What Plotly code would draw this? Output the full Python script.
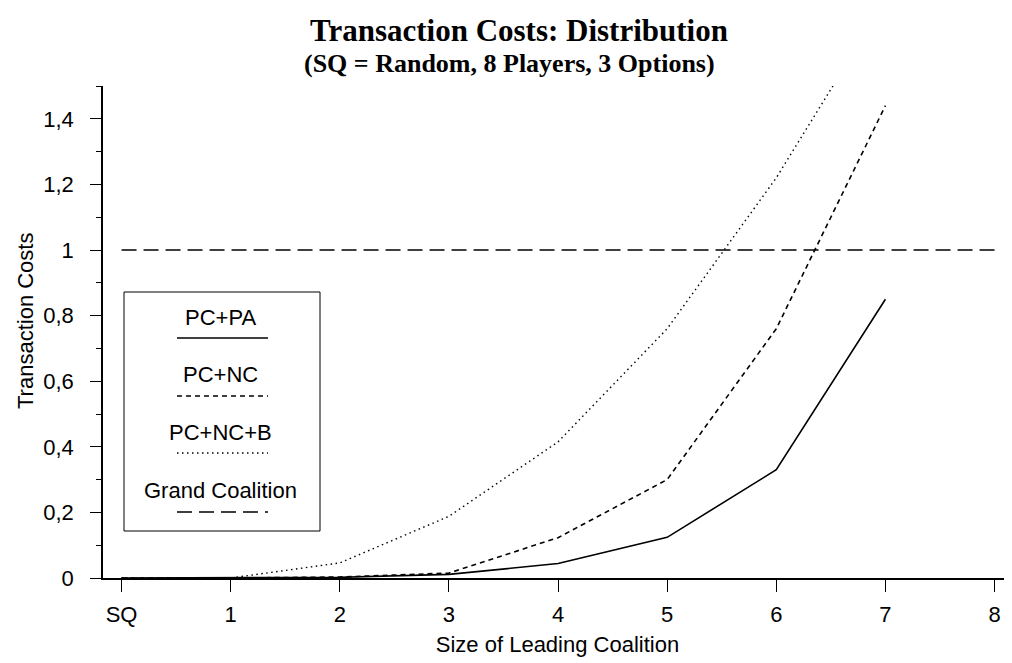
import plotly.graph_objects as go

# data
x_pos = [0, 1, 2, 3, 4, 5, 6, 7, 8]
x_labels = ["SQ", "1", "2", "3", "4", "5", "6", "7", "8"]
pc_pa = [0, 0, 0.002, 0.011, 0.044, 0.124, 0.33, 0.85]
pc_nc = [0, 0, 0.003, 0.015, 0.123, 0.30, 0.76, 1.44]
pc_nc_b = [0, 0, 0.046, 0.188, 0.415, 0.76, 1.22, 1.76]
grand = [1, 1, 1, 1, 1, 1, 1, 1, 1]

names = ["PC+PA", "PC+NC", "PC+NC+B", "Grand Coalition"]
dashes = ["solid", "5px,4px", "1.5px,3.5px", "15px,7px"]
widths = [1.6, 1.6, 1.4, 1.5]

fig = go.Figure()
for name, ys, dash, w in zip(names, [pc_pa, pc_nc, pc_nc_b, grand], dashes, widths):
    fig.add_trace(go.Scatter(x=x_pos[:len(ys)], y=ys, mode="lines", name=name,
                             line=dict(color="black", width=w, dash=dash)))

axfont = dict(family="Liberation Sans, Arial", size=22, color="black")
# page body has an 8px margin, so the figure is 8px smaller than the window
fig.update_layout(
    width=1004, height=655,
    paper_bgcolor="white", plot_bgcolor="white",
    margin=dict(l=95, r=0, t=78, b=85, autoexpand=False),
    showlegend=False,
    separators=", ",
    font=axfont,
)
fig.update_xaxes(range=[-0.17, 8.16], tickvals=x_pos, ticktext=x_labels,
                 showgrid=False, zeroline=False, showline=True, linecolor="black",
                 linewidth=1.5, ticks="outside", ticklen=12, tickcolor="black",
                 tickfont=axfont, ticklabelstandoff=4,
                 title=dict(text="Size of Leading Coalition", font=axfont, standoff=10))
fig.update_yaxes(range=[0, 1.5], dtick=0.2, tick0=0,
                 showgrid=False, zeroline=False, showline=True, linecolor="black",
                 linewidth=1.5, ticks="outside", ticklen=11, tickcolor="black",
                 minor=dict(ticks="outside", dtick=0.1, tick0=0, ticklen=5, tickcolor="black"),
                 tickfont=axfont, ticklabelstandoff=12)

def px_x(p):
    return (p - 103) / 909

def px_y(p):
    return (578 - p) / 492

# y axis title, sits a little above the plot centre
fig.add_annotation(x=px_x(25), y=px_y(321), xref="paper", yref="paper", showarrow=False,
                   text="Transaction Costs", textangle=-90, font=axfont,
                   xanchor="center", yanchor="middle")

# titles
fig.add_annotation(x=px_x(519), y=px_y(30), xref="paper", yref="paper", showarrow=False,
                   text="<b>Transaction Costs: Distribution</b>", xanchor="center", yanchor="middle",
                   font=dict(family="Liberation Serif, Times New Roman", size=31, color="black"))
fig.add_annotation(x=px_x(509), y=px_y(63), xref="paper", yref="paper", showarrow=False,
                   text="<b>(SQ = Random, 8 Players, 3 Options)</b>", xanchor="center", yanchor="middle",
                   font=dict(family="Liberation Serif, Times New Roman", size=26, color="black"))

# custom legend: text above line sample
fig.add_shape(type="rect", xref="paper", yref="paper",
              x0=px_x(124), x1=px_x(320), y0=px_y(531), y1=px_y(292),
              line=dict(color="black", width=1), fillcolor="white", layer="below")
text_y = [317, 374, 432, 490]
line_y = [338, 396, 453, 512]
for name, dash, w, ty, ly in zip(names, dashes, widths, text_y, line_y):
    fig.add_annotation(x=px_x(220), y=px_y(ty), xref="paper", yref="paper", showarrow=False,
                       text=name, font=axfont, xanchor="center", yanchor="middle")
    fig.add_shape(type="line", xref="paper", yref="paper",
                  x0=px_x(177), x1=px_x(268), y0=px_y(ly), y1=px_y(ly),
                  line=dict(color="black", width=w, dash=dash))

fig.write_html("out.html")
